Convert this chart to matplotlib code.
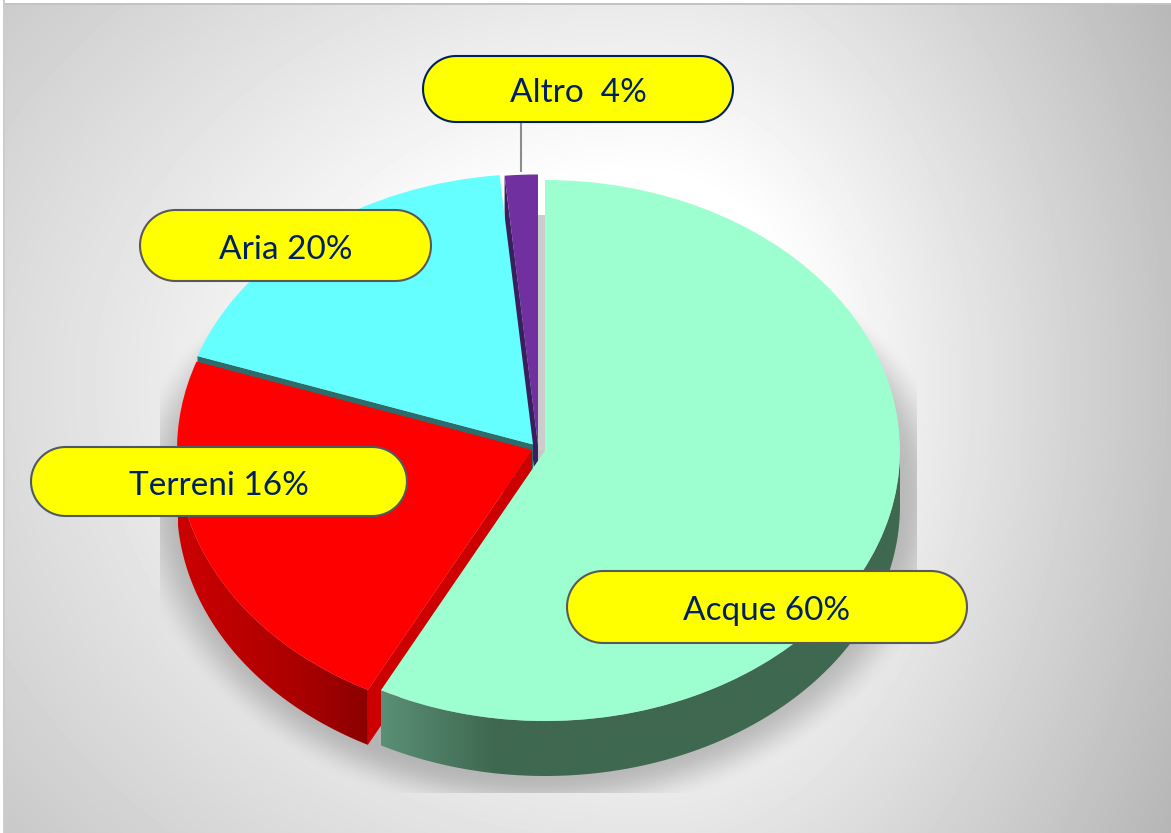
#!/usr/bin/env python3
"""Torta 3D con etichette a pillola: ripartizione per comparto."""

import numpy as np
import matplotlib
matplotlib.use("Agg")
import matplotlib.pyplot as plt
from matplotlib.patches import Polygon, Wedge
from matplotlib.transforms import Affine2D

# dati: ordine orario a partire dalle ore 12
categories = ["Acque", "Terreni", "Aria", "Altro"]
slice_shares = [57.65, 22.65, 18.2, 1.5]  # ampiezza disegnata, in % del giro
label_texts = ["Acque 60%", "Terreni 16%", "Aria 20%", "Altro  4%"]

W, H = 1171, 833
RX, RY, DEPTH = 355, 270.5, 55
CENTERS = {"Acque": (545, 450.5), "Terreni": (532, 450), "Aria": (533, 444.5), "Altro": (538, 445)}
FACE = {"Acque": "#9dffd0", "Terreni": "#ff0000", "Aria": "#66ffff", "Altro": "#7030a0"}
SIDE = {"Acque": "#3f6850", "Terreni": "#cc0000", "Aria": "#2e6b6b", "Altro": "#3a1f5e"}
# gradiente della parete esterna: (x, colore)
WALL_STOPS = {
    "Acque": [(381, "#5a9076"), (495, "#3f6850"), (900, "#3f6850")],
    "Terreni": [(178, "#cc0000"), (300, "#aa0000"), (368, "#8b0000")],
}
BOXES = {
    "Acque": (567, 571, 400, 72, "#595959"),
    "Terreni": (31, 447, 376, 69, "#4d5a66"),
    "Aria": (140, 210, 291, 71, "#595959"),
    "Altro": (423, 56, 310, 66, "#002060"),
}


def background():
    yy, xx = np.mgrid[0:H, 0:W]
    sx = np.where(xx < 650, 900.0, 521.0)
    sy = np.where(yy < 380, 680.0, 750.0)
    d = np.hypot((xx - 650) / sx, (yy - 380) / sy)
    bg = 255 - 85 * np.clip(d - 0.3, 0, None)
    # ombra ritagliata dal suo riquadro
    ry = np.where(yy < 490, 255.0, 300.0)
    s = np.hypot((xx - 540) / 378, (yy - 490) / ry)
    shadow = np.clip((1.10 - s) / 0.15, 0, 1)
    shadow = shadow * shadow * (3 - 2 * shadow)
    box = (xx >= 160) & (xx < 917) & (yy >= 215) & (yy < 793)
    bg = np.where(box, bg * (1 - 0.22 * shadow), bg)
    bg[215:450, 538:546] = 204  # fessura tra le fette, sopra il centro
    bg[:5, :] = 195
    bg[:3, :] = 255
    bg[:, :5] = 205
    bg[:, :3] = 255
    return bg


def rgb(color):
    return np.array(matplotlib.colors.to_rgb(color))


def clock_point(center, clock):
    t = np.deg2rad(clock - 90)
    return center[0] + RX * np.cos(t), center[1] + RY * np.sin(t)


def draw_radial_wall(ax, name, clock, z):
    cx, cy = CENTERS[name]
    px, py = clock_point((cx, cy), clock)
    pts = [(cx, cy), (px, py), (px, py + DEPTH), (cx, cy + DEPTH)]
    ax.add_patch(Polygon(pts, closed=True, fc=SIDE[name], ec="none", zorder=z))


def draw_outer_wall(ax, name, start, end, z):
    center = CENTERS[name]
    clocks = np.linspace(max(start, 90), min(end, 270), 200)
    top = [clock_point(center, c) for c in clocks]
    bottom = [(x, y + DEPTH) for x, y in reversed(top)]
    clip = Polygon(top + bottom, closed=True, fc="none", ec="none", transform=ax.transData)
    ax.add_patch(clip)

    stops = WALL_STOPS[name]
    xs = np.arange(stops[0][0], stops[-1][0] + 1)
    chans = [np.interp(xs, [s[0] for s in stops], [rgb(s[1])[i] for s in stops]) for i in range(3)]
    grad = np.dstack(chans)
    im = ax.imshow(grad, extent=(xs[0], xs[-1], H, 0), aspect="auto", zorder=z, interpolation="bilinear")
    im.set_clip_path(clip)


def pill_points(x, y, w, h):
    r = h / 2
    t = np.linspace(-np.pi / 2, np.pi / 2, 40)
    right = np.column_stack([x + w - r + r * np.cos(t), y + r + r * np.sin(t)])
    left = np.column_stack([x + r - r * np.cos(t), y + r - r * np.sin(t)])
    return np.vstack([right, left])


def main():
    fig = plt.figure(figsize=(W / 100, H / 100), dpi=100)
    ax = fig.add_axes([0, 0, 1, 1])
    ax.imshow(background(), cmap="gray", vmin=0, vmax=255, extent=(0, W, H, 0), aspect="auto", zorder=0)

    edges = np.concatenate([[0], np.cumsum(slice_shares)]) * 3.6
    spans = {n: (edges[i], edges[i + 1]) for i, n in enumerate(categories)}

    # dal fondo verso il davanti
    z = 1
    for name in ["Altro", "Aria", "Terreni", "Acque"]:
        start, end = spans[name]
        center = CENTERS[name]
        if name != "Acque":
            draw_radial_wall(ax, name, start, z)
        if name in WALL_STOPS:
            draw_outer_wall(ax, name, start, end, z + 0.1)
        tr = Affine2D().scale(RX, RY).translate(*center) + ax.transData
        ax.add_patch(Wedge((0, 0), 1, start - 90, end - 90, fc=FACE[name], ec="none",
                           transform=tr, zorder=z + 0.2))
        z += 1

    # linea guida di "Altro"
    ax.plot([521, 521], [122, 172], color="#8c8c8c", lw=1.5, zorder=z, solid_capstyle="butt")

    for name, label in zip(categories, label_texts):
        x, y, w, h, edge = BOXES[name]
        ax.add_patch(Polygon(pill_points(x, y, w, h), closed=True, fc="#ffff00", ec=edge, lw=1.5, zorder=z + 1))
        ax.text(x + w / 2, y + h / 2 + 1, label, ha="center", va="center_baseline", fontsize=24,
                family="Lato", color="#002060", zorder=z + 2)

    ax.set_xlim(0, W)
    ax.set_ylim(H, 0)
    ax.axis("off")
    fig.savefig("out.png", dpi=100)


if __name__ == "__main__":
    main()
